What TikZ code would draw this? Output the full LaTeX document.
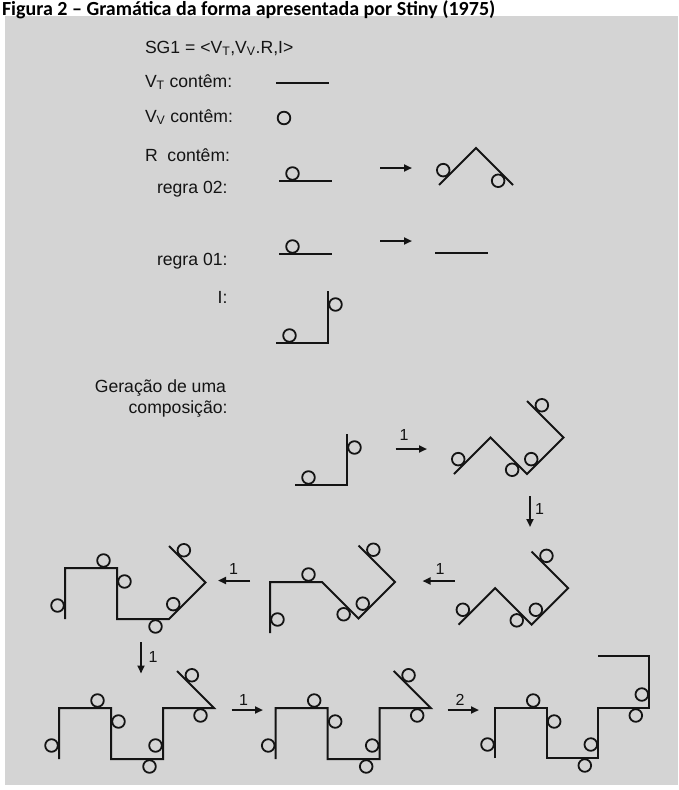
\documentclass[tikz,border=0pt]{standalone}
\usepackage{fontspec}
\setmainfont{Liberation Sans}
\newfontfamily\fontetitulo{Carlito}
\usetikzlibrary{arrows.meta, calc}
\definecolor{cfundo}{HTML}{D4D4D4}
\definecolor{ctraco}{HTML}{141414}
\tikzset{
  every picture/.style={x=1pt, y=-1pt, line width=2pt},
  traco/.style={draw=ctraco, line width=2pt},
  bola/.style={draw=ctraco, line width=1.8pt},
  seta/.style={-{Triangle[length=8pt, width=7pt]}, draw=ctraco, line width=2pt},
  rotulo/.style={font=\fontsize{17.6}{21}\selectfont, inner sep=0pt, text=ctraco},
  regra/.style={rotulo, anchor=base east},
  passo/.style={font=\fontsize{16}{19}\selectfont, inner sep=0pt, anchor=base, text=ctraco},
  titulo/.style={font=\fontetitulo\bfseries\fontsize{20}{23}\selectfont, inner sep=0pt, anchor=base west},
}
% circulo tangente ao segmento (#1)--(#2), perto de #1, do lado #3
\newcommand{\bolinha}[3]{\draw[bola] ($(#1)!13.5pt!(#2)!7.5pt!#3:(#2)$) circle[radius=6.3pt];}
% zigue-zague das etapas 1 e 2, origem na ponta esquerda
\newcommand{\zigue}{
  \draw[traco] (0,0) -- (36.5,-36.5) -- (73,0) -- (109.5,-36.5) -- (73,-73);
  \bolinha{0,0}{36.5,-36.5}{90}
  \bolinha{73,0}{36.5,-36.5}{90}
  \bolinha{73,0}{109.5,-36.5}{90}
  \bolinha{73,-73}{109.5,-36.5}{90}
}
% degraus das etapas 5 e 6
\newcommand{\degraus}{
  \draw[traco] (59,759) -- (59,708) -- (111,708) -- (111,759) -- (163,759) -- (163,708) -- (214,708) -- (177,671);
  \bolinha{59,759}{59,708}{90}
  \bolinha{111,708}{59,708}{270}
  \bolinha{111,708}{111,759}{90}
  \bolinha{163,759}{111,759}{90}
  \bolinha{163,759}{163,708}{90}
  \bolinha{214,708}{163,708}{90}
  \bolinha{177,671}{214,708}{90}
}

\begin{document}
\begin{tikzpicture}
  \useasboundingbox (0,0) rectangle (678,790);
  \clip (0,0) rectangle (678,790);
  \fill[white] (0,0) rectangle (678,790);
  \fill[cfundo] (5,16) rectangle (678,785);
  \node[titulo] (tit) at (1,15) {Figura 2 – Gramática da forma apresentada por Stiny (1975)};

  % definicao da gramatica
  \node[rotulo, anchor=base west] (sg) at (144,53) {SG1 = <V\textsubscript{T},V\textsubscript{V}.R,I>};
  \node[rotulo, anchor=base west] (vt) at (144,87) {V\textsubscript{T} contêm:};
  \node[rotulo, anchor=base west] (vv) at (144,122) {V\textsubscript{V} contêm:};
  \node[rotulo, anchor=base west] (rr) at (144,161) {R\ \ contêm:};
  \node[regra] (r02) at (228.5,193) {regra 02:};
  \node[regra] (r01) at (228.5,265) {regra 01:};
  \node[regra] (ii) at (228.5,303) {I:};
  \node[regra] (ger1) at (227,392) {Geração de uma};
  \node[regra] (ger2) at (228.5,413.5) {composição:};

  \draw[traco] (276,83) -- (329,83);
  \draw[bola] (284,118) circle[radius=6.3pt];

  % regra 02
  \draw[traco] (279,181) -- (332,181);
  \bolinha{279,181}{332,181}{90}
  \coordinate (r2a) at (380,168);
  \coordinate (r2b) at (412,168);
  \draw[seta] (r2a) -- (r2b);
  \draw[traco] (439,185) -- (476,148) -- (513,185);
  \bolinha{439,185}{476,148}{90}
  \bolinha{513,185}{476,148}{90}

  % regra 01
  \draw[traco] (279,254) -- (332,254);
  \bolinha{279,254}{332,254}{90}
  \coordinate (r1a) at (380,241);
  \coordinate (r1b) at (412,241);
  \draw[seta] (r1a) -- (r1b);
  \draw[traco] (435,253) -- (488,253);

  % forma inicial
  \draw[traco] (328,291) -- (328,343) -- (276,343);
  \bolinha{276,343}{328,343}{90}
  \bolinha{328,291}{328,343}{90}

  % etapa 0
  \draw[traco] (347,434) -- (347,485) -- (295,485);
  \bolinha{295,485}{347,485}{90}
  \bolinha{347,434}{347,485}{90}
  \coordinate (p1a) at (395.5,449);
  \coordinate (p1b) at (427,449);
  \draw[seta] (p1a) -- (p1b);
  \node[passo] (n1) at (404,440) {1};

  % etapas 1 e 2
  \begin{scope}[shift={(454,474)}]
    \zigue
  \end{scope}
  \coordinate (p2a) at (530,496);
  \coordinate (p2b) at (530,527);
  \draw[seta] (p2a) -- (p2b);
  \node[passo] (n2) at (539.5,514) {1};
  \begin{scope}[shift={(458.6,624.6)}]
    \zigue
  \end{scope}
  \coordinate (p3a) at (454.5,581);
  \coordinate (p3b) at (422.5,581);
  \draw[seta] (p3a) -- (p3b);
  \node[passo] (n3) at (440,574) {1};

  % etapa 3
  \draw[traco] (270,633) -- (270,582) -- (322,582) -- (358.5,618.5) -- (395,582) -- (358.5,545.5);
  \bolinha{270,633}{270,582}{270}
  \bolinha{322,582}{270,582}{270}
  \bolinha{358.5,618.5}{322,582}{90}
  \bolinha{358.5,618.5}{395,582}{90}
  \bolinha{358.5,545.5}{395,582}{90}
  \coordinate (p4a) at (250,580.5);
  \coordinate (p4b) at (218,580.5);
  \draw[seta] (p4a) -- (p4b);
  \node[passo] (n4) at (233.5,574) {1};

  % etapa 4
  \draw[traco] (65,619) -- (65,568) -- (117,568) -- (117,619) -- (169,619) -- (205.5,582.5) -- (169,546);
  \bolinha{65,619}{65,568}{90}
  \bolinha{117,568}{65,568}{270}
  \bolinha{117,568}{117,619}{90}
  \bolinha{169,619}{117,619}{90}
  \bolinha{169,619}{205.5,582.5}{90}
  \bolinha{169,546}{205.5,582.5}{90}
  \coordinate (p5a) at (141,642);
  \coordinate (p5b) at (141,673.5);
  \draw[seta] (p5a) -- (p5b);
  \node[passo] (n5) at (153,662.5) {1};

  % etapas 5 e 6
  \degraus
  \coordinate (p6a) at (231.5,710);
  \coordinate (p6b) at (263,710);
  \draw[seta] (p6a) -- (p6b);
  \node[passo] (n6) at (243.5,705) {1};
  \begin{scope}[shift={(216.7,0)}]
    \degraus
  \end{scope}
  \coordinate (p7a) at (447.5,710);
  \coordinate (p7b) at (479,710);
  \draw[seta] (p7a) -- (p7b);
  \node[passo] (n7) at (460,705) {2};

  % etapa 7
  \draw[traco] (495,758) -- (495,708) -- (546.7,708) -- (546.7,758) -- (598.3,758) -- (598.3,708) -- (649.3,708) -- (649.3,656) -- (597.7,656);
  \bolinha{495,758}{495,708}{90}
  \bolinha{546.7,708}{495,708}{270}
  \bolinha{546.7,708}{546.7,758}{90}
  \bolinha{598.3,758}{546.7,758}{90}
  \bolinha{598.3,758}{598.3,708}{90}
  \bolinha{649.3,708}{598.3,708}{90}
  \bolinha{649.3,708}{649.3,656}{90}
\end{tikzpicture}
\end{document}
